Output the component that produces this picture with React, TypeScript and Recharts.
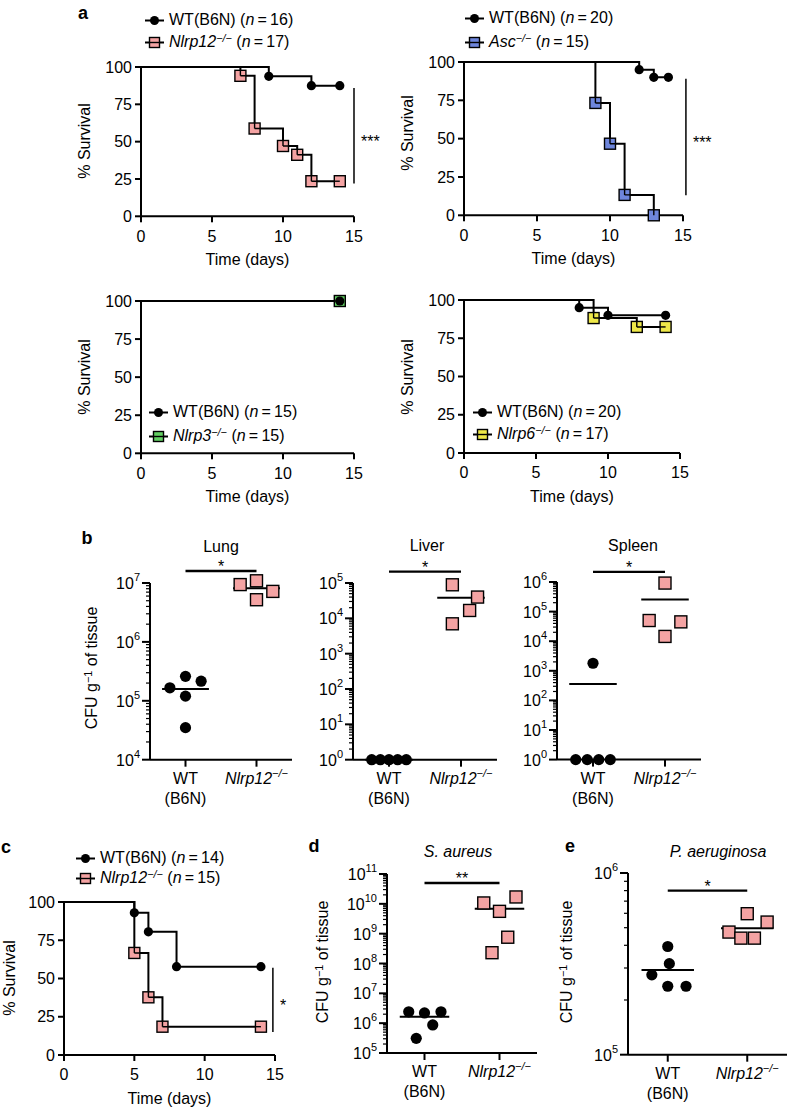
import React from 'react'
import { LineChart, Line, XAxis, YAxis, ScatterChart, Scatter, ReferenceLine } from 'recharts'

const FONT = '"Liberation Sans", Arial, Helvetica, sans-serif'
const PINK = '#f4a3a3'
const BLUE = '#6e86dc'
const GREEN = '#62cf62'
const YELLOW = '#efe949'

// a, top left: WT vs Nlrp12 (% survival at each event day)
const a1WTDays = [0, 9, 12, 14]
const a1WTSurv = [100, 93.75, 87.5, 87.5]
const a1KODays = [0, 7, 8, 10, 11, 12, 14]
const a1KOSurv = [100, 94.1, 58.8, 47.1, 41.2, 23.5, 23.5]
// a, top right: WT vs Asc
const a2WTDays = [0, 12, 13, 14]
const a2WTSurv = [100, 95, 90, 90]
const a2KODays = [0, 9, 10, 11, 13]
const a2KOSurv = [100, 73.3, 46.7, 13.3, 0]
// a, bottom left: WT vs Nlrp3
const a3WTDays = [0, 14]
const a3WTSurv = [100, 100]
const a3KODays = [0, 14]
const a3KOSurv = [100, 100]
// a, bottom right: WT vs Nlrp6
const a4WTDays = [0, 8, 10, 14]
const a4WTSurv = [100, 95, 90, 90]
const a4KODays = [0, 9, 12, 14]
const a4KOSurv = [100, 88.2, 82.4, 82.4]
// c: WT vs Nlrp12
const cWTDays = [0, 5, 6, 8, 14]
const cWTSurv = [100, 92.9, 80.5, 57.7, 57.7]
const cKODays = [0, 5, 6, 7, 14]
const cKOSurv = [100, 66.7, 37.7, 18.5, 18.5]

const dayTicks = [0, 5, 10, 15]
const survTicks = [0, 25, 50, 75, 100]

// CFU g-1 of tissue, one value per mouse; spread = offset of the dot inside its column
const lungWT = [1.66e5, 2.6e5, 2.15e5, 1.2e5, 3.5e4]
const lungWTSpread = [-0.22, 0, 0.22, 0, 0]
const lungKO = [9.4e6, 1.09e7, 5.2e6, 7.2e6]
const lungKOSpread = [-0.23, 0, 0, 0.23]
const liverWT = [1, 1, 1, 1, 1]
const liverWTSpread = [-0.24, -0.12, 0, 0.12, 0.24]
const liverKO = [8.9e4, 4e4, 1.67e4, 7e3]
const liverKOSpread = [-0.12, 0.23, 0.12, -0.12]
const spleenWT = [1.8e3, 1, 1, 1, 1]
const spleenWTSpread = [0, -0.24, -0.08, 0.08, 0.24]
const spleenKO = [9.2e5, 5e4, 4.5e4, 1.45e4]
const spleenKOSpread = [0, -0.22, 0.22, 0]
const saWT = [2.4e6, 2.2e6, 2.4e6, 8.7e5, 3.1e5]
const saWTSpread = [-0.21, 0, 0.22, 0.11, -0.11]
const saKO = [1.07e10, 5.6e9, 1.7e10, 7.6e8, 2.3e8]
const saKOSpread = [-0.21, 0, 0.22, 0.11, -0.1]
const paWT = [3.94e5, 3.17e5, 2.75e5, 2.38e5, 2.38e5]
const paWTSpread = [0, 0.02, -0.2, 0, 0.23]
const paKO = [5.97e5, 5.37e5, 4.73e5, 4.38e5, 4.38e5]
const paKOSpread = [0, 0.25, -0.23, -0.08, 0.09]

const lungTicks = [1e4, 1e5, 1e6, 1e7]
const liverTicks = [1, 1e1, 1e2, 1e3, 1e4, 1e5]
const spleenTicks = [1, 1e1, 1e2, 1e3, 1e4, 1e5, 1e6]
const saTicks = [1e5, 1e6, 1e7, 1e8, 1e9, 1e10, 1e11]
const paTicks = [1e5, 1e6]

const AX = { stroke: '#000', strokeWidth: 2 }
const TK = { fill: '#000', fontSize: 16 }

const Sup = ({ children }: { children: React.ReactNode }) => (
  <span style={{ fontSize: '0.68em', position: 'relative', top: '-0.5em' }}>{children}</span>
)

function T({ x, y, children, size = 16, bold, italic, rotate }: any) {
  return (
    <div
      style={{
        position: 'absolute', left: x, top: y, whiteSpace: 'nowrap', fontSize: size, lineHeight: 1,
        fontWeight: bold ? 'bold' : 'normal', fontStyle: italic ? 'italic' : 'normal',
        transform: `translate(-50%, -50%)${rotate ? ' rotate(-90deg)' : ''}`,
      }}
    >
      {children}
    </div>
  )
}

type Curve = { days: number[]; surv: number[]; marker: 'circle' | 'square'; color: string }

function kmDot(p: any, c: Curve) {
  const { cx, cy, index } = p
  const k = `d${index}`
  if (index === 0 || cx == null) return <g key={k} />
  if (c.marker === 'circle') return <circle key={k} cx={cx} cy={cy} r={4.6} fill="#000" />
  const drop = c.surv[index] < c.surv[index - 1]
  const last = index === c.days.length - 1
  const h = 5.5
  let d = ''
  if (drop) d += `M${cx},${cy - h}V${cy}`
  if (!last) d += `M${cx},${cy}H${cx + h}`
  if (!drop) d += `M${cx - h},${cy}H${cx}`
  return (
    <g key={k}>
      <rect x={cx - h} y={cy - h} width={2 * h} height={2 * h} fill={c.color} stroke="#000" strokeWidth={1.4} />
      <path d={d} stroke="#000" strokeWidth={1.4} fill="none" />
    </g>
  )
}

function SideStars(props: any) {
  const { viewBox, text } = props
  return (
    <text x={viewBox.x + viewBox.width + 7} y={viewBox.y + viewBox.height / 2 + 11} fontSize={16} fill="#000">
      {text}
    </text>
  )
}

function TopStars(props: any) {
  const { viewBox, text } = props
  return (
    <text x={viewBox.x + viewBox.width / 2} y={viewBox.y + 1} textAnchor="middle" fontSize={16} fill="#000">
      {text}
    </text>
  )
}

function Survival({ box, curves, sig }: { box: number[]; curves: Curve[]; sig?: { x: number; hi: number; lo: number; stars: string } }) {
  const [x0, x1, yT, yB] = box
  const YW = 52, MT = 14, MR = 40, XH = 40
  return (
    <div style={{ position: 'absolute', left: x0 - YW, top: yT - MT }}>
      <LineChart width={YW + x1 - x0 + MR} height={MT + yB - yT + XH} margin={{ top: MT, right: MR, left: 0, bottom: 0 }}>
        <XAxis type="number" dataKey="day" domain={[0, 15]} ticks={dayTicks} interval={0} height={XH} tickSize={6} tickMargin={8} axisLine={AX} tickLine={AX} tick={TK} />
        <YAxis type="number" domain={[0, 100]} ticks={survTicks} interval={0} width={YW} tickSize={6} tickMargin={3} axisLine={AX} tickLine={AX} tick={TK} />
        {curves.map((c, i) => (
          <Line
            key={i}
            data={c.days.map((d, j) => ({ day: d, surv: c.surv[j] }))}
            dataKey="surv"
            type="stepAfter"
            stroke="#000"
            strokeWidth={2}
            isAnimationActive={false}
            activeDot={false}
            dot={(p: any) => kmDot(p, c)}
          />
        ))}
        {sig && (
          <ReferenceLine
            segment={[{ x: sig.x, y: sig.hi }, { x: sig.x, y: sig.lo }]}
            stroke="#000"
            strokeWidth={1.5}
            ifOverflow="visible"
            label={(p: any) => <SideStars {...p} text={sig.stars} />}
          />
        )}
      </LineChart>
    </div>
  )
}

function LogTick(props: any) {
  const { x, y, payload } = props
  const p = Math.log10(payload.value)
  const e = Math.round(p)
  const major = Math.abs(p - e) < 1e-6
  return (
    <g>
      <line x1={x - (major ? 8 : 4)} x2={x} y1={y} y2={y} stroke="#000" strokeWidth={major ? 2 : 1.2} />
      {major && (
        <text x={x - 10} y={y + 6} textAnchor="end" fontSize={16} fill="#000">
          10<tspan dy={-8} fontSize={11}>{e}</tspan>
        </text>
      )}
    </g>
  )
}

function GroupTick(props: any) {
  const { x, y, payload } = props
  return (
    <g>
      <line x1={x} x2={x} y1={y} y2={y + 7} stroke="#000" strokeWidth={2} />
      {payload.value === 1 ? (
        <text x={x} y={y + 24} textAnchor="middle" fontSize={16} fill="#000">
          <tspan x={x}>WT</tspan>
          <tspan x={x} dy={20}>(B6N)</tspan>
        </text>
      ) : (
        <text x={x} y={y + 24} textAnchor="middle" fontSize={16} fill="#000" fontStyle="italic">
          Nlrp12<tspan dy={-7} fontSize={11}>−/−</tspan>
        </text>
      )}
    </g>
  )
}

function minorTicks(majors: number[]) {
  const out: number[] = []
  majors.forEach((m, i) => {
    out.push(m)
    if (i < majors.length - 1) for (let k = 2; k < 10; k++) out.push(m * k)
  })
  return out
}

const mean = (v: number[]) => v.reduce((s, a) => s + a, 0) / v.length

function DotPlot({ box, majors, wt, wtSpread, ko, koSpread, sigY, stars, mr = 20 }: any) {
  const [x0, x1, yT, yB] = box
  const YW = 60, MT = 40, XH = 60, HALF = 0.33
  const wtPts = wt.map((v: number, i: number) => ({ x: 1 + wtSpread[i], y: v }))
  const koPts = ko.map((v: number, i: number) => ({ x: 2 + koSpread[i], y: v }))
  const mW = mean(wt)
  const mK = mean(ko)
  return (
    <div style={{ position: 'absolute', left: x0 - YW, top: yT - MT }}>
      <ScatterChart width={YW + x1 - x0 + mr} height={MT + yB - yT + XH} margin={{ top: MT, right: mr, left: 0, bottom: 0 }}>
        <XAxis type="number" dataKey="x" domain={[0.5, 2.5]} ticks={[1, 2]} interval={0} height={XH} tickSize={0} tickMargin={0} axisLine={AX} tickLine={false} tick={<GroupTick />} />
        <YAxis type="number" dataKey="y" scale="log" domain={[majors[0], majors[majors.length - 1]]} ticks={minorTicks(majors)} interval={0} width={YW} tickSize={0} tickMargin={0} axisLine={AX} tickLine={false} tick={<LogTick />} allowDataOverflow />
        <Scatter data={wtPts} isAnimationActive={false} shape={(p: any) => <circle cx={p.cx} cy={p.cy} r={5.6} fill="#000" />} />
        <Scatter data={koPts} isAnimationActive={false} shape={(p: any) => <rect x={p.cx - 6} y={p.cy - 6} width={12} height={12} fill={PINK} stroke="#000" strokeWidth={1.4} />} />
        <ReferenceLine segment={[{ x: 1 - HALF, y: mW }, { x: 1 + HALF, y: mW }]} stroke="#000" strokeWidth={2} ifOverflow="visible" />
        <ReferenceLine segment={[{ x: 2 - HALF, y: mK }, { x: 2 + HALF, y: mK }]} stroke="#000" strokeWidth={2} ifOverflow="visible" />
        <ReferenceLine segment={[{ x: 1, y: sigY }, { x: 2, y: sigY }]} stroke="#000" strokeWidth={2.4} ifOverflow="visible" label={(p: any) => <TopStars {...p} text={stars} />} />
      </ScatterChart>
    </div>
  )
}

function KMLegend({ x, y, gap, rows }: { x: number; y: number; gap: number; rows: { marker: string; color: string; label: React.ReactNode }[] }) {
  return (
    <>
      {rows.map((r, i) => (
        <div key={i} style={{ position: 'absolute', left: x, top: y + i * gap, transform: 'translateY(-50%)', display: 'flex', alignItems: 'center', whiteSpace: 'nowrap', fontSize: 16, lineHeight: 1 }}>
          <svg width={19} height={13} style={{ marginRight: 5 }}>
            <line x1={0} x2={19} y1={6.5} y2={6.5} stroke="#000" strokeWidth={2} />
            {r.marker === 'circle' ? (
              <circle cx={9.5} cy={6.5} r={4.5} fill="#000" />
            ) : (
              <>
                <rect x={4.5} y={1.5} width={10} height={10} fill={r.color} stroke="#000" strokeWidth={1.4} />
                <line x1={4.5} x2={14.5} y1={6.5} y2={6.5} stroke="#000" strokeWidth={1.4} />
              </>
            )}
          </svg>
          <span>{r.label}</span>
        </div>
      ))}
    </>
  )
}

const wtLabel = (n: number) => (
  <>WT(B6N) (<i>n</i>{'\u2009=\u2009'}{n})</>
)
const koLabel = (gene: string, n: number) => (
  <><i>{gene}<Sup>−/−</Sup></i> (<i>n</i>{'\u2009=\u2009'}{n})</>
)
const cfu = (
  <>CFU g<Sup>−1</Sup> of tissue</>
)

// markers near the plot edges must not be cut by the series clip paths
const unclip = '.recharts-surface [clip-path]{clip-path:none !important}'

export default function App() {
  return (
    <div style={{ position: 'absolute', left: 0, top: 0, width: 788, height: 1108, overflow: 'hidden', background: '#fff', fontFamily: FONT, color: '#000' }}>
      <style>{unclip}</style>
      {/* panel a */}
      <T x={83} y={13} size={18} bold>a</T>
      <Survival
        box={[141, 354, 66.7, 216]}
        curves={[
          { days: a1WTDays, surv: a1WTSurv, marker: 'circle', color: '#000' },
          { days: a1KODays, surv: a1KOSurv, marker: 'square', color: PINK },
        ]}
        sig={{ x: 15, hi: 86, lo: 22, stars: '***' }}
      />
      <KMLegend x={145} y={20} gap={22} rows={[
        { marker: 'circle', color: '#000', label: wtLabel(16) },
        { marker: 'square', color: PINK, label: koLabel('Nlrp12', 17) },
      ]} />
      <T x={85} y={141} rotate>% Survival</T>
      <T x={247.5} y={260}>Time (days)</T>

      <Survival
        box={[464, 683, 62, 215.3]}
        curves={[
          { days: a2WTDays, surv: a2WTSurv, marker: 'circle', color: '#000' },
          { days: a2KODays, surv: a2KOSurv, marker: 'square', color: BLUE },
        ]}
        sig={{ x: 15.2, hi: 89, lo: 13, stars: '***' }}
      />
      <KMLegend x={465} y={18} gap={24} rows={[
        { marker: 'circle', color: '#000', label: wtLabel(20) },
        { marker: 'square', color: BLUE, label: koLabel('Asc', 15) },
      ]} />
      <T x={408} y={133} rotate>% Survival</T>
      <T x={573.5} y={259}>Time (days)</T>

      <Survival
        box={[141, 354, 300.7, 453]}
        curves={[
          { days: a3KODays, surv: a3KOSurv, marker: 'square', color: GREEN },
          { days: a3WTDays, surv: a3WTSurv, marker: 'circle', color: '#000' },
        ]}
      />
      <KMLegend x={149} y={412} gap={24} rows={[
        { marker: 'circle', color: '#000', label: wtLabel(15) },
        { marker: 'square', color: GREEN, label: koLabel('Nlrp3', 15) },
      ]} />
      <T x={85} y={377} rotate>% Survival</T>
      <T x={247.5} y={497}>Time (days)</T>

      <Survival
        box={[464, 680, 300, 453]}
        curves={[
          { days: a4WTDays, surv: a4WTSurv, marker: 'circle', color: '#000' },
          { days: a4KODays, surv: a4KOSurv, marker: 'square', color: YELLOW },
        ]}
      />
      <KMLegend x={473} y={412} gap={22} rows={[
        { marker: 'circle', color: '#000', label: wtLabel(20) },
        { marker: 'square', color: YELLOW, label: koLabel('Nlrp6', 17) },
      ]} />
      <T x={408} y={377} rotate>% Survival</T>
      <T x={572} y={497}>Time (days)</T>

      {/* panel b */}
      <T x={87} y={538} size={18} bold>b</T>
      <T x={221} y={547}>Lung</T>
      <T x={427} y={546}>Liver</T>
      <T x={633} y={546}>Spleen</T>
      <DotPlot box={[150, 292, 583.3, 760]} majors={lungTicks} wt={lungWT} wtSpread={lungWTSpread} ko={lungKO} koSpread={lungKOSpread} sigY={1.6e7} stars="*" />
      <DotPlot box={[353, 497, 583.3, 760]} majors={liverTicks} wt={liverWT} wtSpread={liverWTSpread} ko={liverKO} koSpread={liverKOSpread} sigY={2.1e5} stars="*" />
      <DotPlot box={[557, 701, 581.7, 759.3]} majors={spleenTicks} wt={spleenWT} wtSpread={spleenWTSpread} ko={spleenKO} koSpread={spleenKOSpread} sigY={2.2e6} stars="*" />
      <T x={92} y={668} rotate>{cfu}</T>

      {/* panel c */}
      <T x={6} y={847} size={18} bold>c</T>
      <Survival
        box={[64, 275, 902, 1055]}
        curves={[
          { days: cWTDays, surv: cWTSurv, marker: 'circle', color: '#000' },
          { days: cKODays, surv: cKOSurv, marker: 'square', color: PINK },
        ]}
        sig={{ x: 14.85, hi: 57, lo: 15, stars: '*' }}
      />
      <KMLegend x={76} y={858} gap={20} rows={[
        { marker: 'circle', color: '#000', label: wtLabel(14) },
        { marker: 'square', color: PINK, label: koLabel('Nlrp12', 15) },
      ]} />
      <T x={10} y={978} rotate>% Survival</T>
      <T x={169.5} y={1099}>Time (days)</T>

      {/* panel d */}
      <T x={314} y={846} size={18} bold>d</T>
      <T x={458} y={852} italic>S. aureus</T>
      <DotPlot box={[387, 537, 874.3, 1053.3]} majors={saTicks} wt={saWT} wtSpread={saWTSpread} ko={saKO} koSpread={saKOSpread} sigY={5e10} stars="**" />
      <T x={323} y={962} rotate>{cfu}</T>

      {/* panel e */}
      <T x={570} y={846} size={18} bold>e</T>
      <T x={718} y={852} italic>P. aeruginosa</T>
      <DotPlot box={[628, 787, 873.3, 1055]} majors={paTicks} wt={paWT} wtSpread={paWTSpread} ko={paKO} koSpread={paKOSpread} sigY={8e5} stars="*" mr={1} />
      <T x={567} y={962} rotate>{cfu}</T>
    </div>
  )
}
